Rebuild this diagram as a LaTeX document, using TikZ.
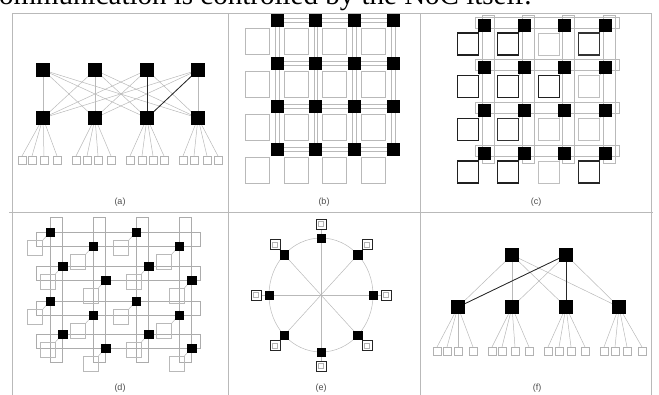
\documentclass[tikz,border=0pt]{standalone}
\usepackage{fontspec}
\setmainfont{Liberation Serif}
\newfontfamily\labfont{Liberation Sans}
\usetikzlibrary{backgrounds}
\begin{document}
\begin{tikzpicture}[x=1pt,y=-1pt,
 sw/.style={draw=black,fill=black,minimum size=#1,inner sep=0pt,outer sep=0pt},
 sw/.default=12,
 res/.style={draw=gray!55,line width=0.7pt,inner sep=0pt,outer sep=0pt},
 lnk/.style={draw=gray!55,line width=0.5pt},
 dlnk/.style={draw=gray!30!black,line width=0.8pt},
 frm/.style={draw=gray!55,line width=0.9pt},
 lab/.style={font=\labfont\fontsize{9}{10}\selectfont,text=gray!60!black,inner sep=0pt}]
\useasboundingbox (0,0) rectangle (659,394);

% caption line cut at the top
\node[anchor=base west,inner sep=0pt,font=\fontsize{29}{31}\selectfont] (cap) at (-14,4.5) {communication is controlled by the NoC itself.};

% frame
\draw[frm] (12,13) -- (651,13);
\draw[frm] (9,212) -- (653,212);
\draw[frm] (12,13) -- (12,400);
\draw[frm] (228,13) -- (228,400);
\draw[frm] (420,13) -- (420,400);
\draw[frm] (651,13) -- (651,400);

% ---------------- (a) ----------------
\foreach \i/\x in {1/43,2/95,3/147,4/198} {
  \node[sw=13] (at\i) at (\x,70) {};
  \node[sw=13] (am\i) at (\x,118) {};
}
\foreach \i/\xa/\xb/\xc/\xd in {1/22/32/44/57,2/76/87/98/111,3/130/142/153/164,4/183/194/207/218} {
  \foreach \k/\x in {1/\xa,2/\xb,3/\xc,4/\xd} {
    \node[res,draw=gray!60,fill=white,minimum size=8] (al\i\k) at (\x,160) {};
  }
}
\begin{pgfonlayer}{background}
\foreach \i in {1,...,4} {
  \foreach \j in {1,...,4} { \draw[lnk] (at\i.center) -- (am\j.center); }
  \foreach \k in {1,...,4} { \draw[lnk] (am\i.center) -- (al\i\k.north); }
}
\draw[dlnk] (at4.center) -- (am3.center);
\draw[dlnk] (at3.center) -- (am3.center);
\end{pgfonlayer}

% ---------------- (b) ----------------
\foreach \c in {0,...,3} {
  \foreach \r in {0,...,3} {
    \node[sw=12] (b\c\r) at ({277+38.67*\c},{20+43*\r}) {};
    \node[res,fill=white,minimum width=24,minimum height=26] (br\c\r) at ({277+38.67*\c-19.5},{20+43*\r+21}) {};
  }
}
\begin{pgfonlayer}{background}
\foreach \c/\cn in {0/1,1/2,2/3} {
  \foreach \r in {0,...,3} {
    \draw[lnk] ([yshift=1.8pt]b\c\r.center) -- ([yshift=1.8pt]b\cn\r.center);
    \draw[lnk] ([yshift=-1.8pt]b\c\r.center) -- ([yshift=-1.8pt]b\cn\r.center);
    \draw[lnk] ([xshift=1.8pt]b\r\c.center) -- ([xshift=1.8pt]b\r\cn.center);
    \draw[lnk] ([xshift=-1.8pt]b\r\c.center) -- ([xshift=-1.8pt]b\r\cn.center);
  }
}
\end{pgfonlayer}

% ---------------- (c) ----------------
\foreach \c/\r/\cl/\lw in {0/0/gray!25!black/1.3,1/0/gray!25!black/1.3,2/0/gray!50/0.7,3/0/gray!40!black/1.1,
  0/1/gray!25!black/1.3,1/1/gray!25!black/1.3,2/1/gray!25!black/1.3,3/1/gray!50/0.7,
  0/2/gray!25!black/1.3,1/2/gray!40!black/1.0,2/2/gray!50/0.7,3/2/gray!50/0.7,
  0/3/gray!25!black/1.3,1/3/gray!25!black/1.3,2/3/gray!50/0.7,3/3/gray!30!black/1.3} {
  \node[sw=12] (c\c\r) at ({484+40.33*\c},{25+42.67*\r}) {};
  \node[res,draw=\cl,line width=\lw pt,fill=white,minimum width=21,minimum height=22] (cr\c\r) at ({484+40.33*\c-16},{25+42.67*\r+19}) {};
}
\begin{pgfonlayer}{background}
\foreach \r in {0,...,3} {
  \draw[lnk] (475,{25+42.67*\r-8}) rectangle (619,{25+42.67*\r+3});
}
\foreach \c in {0,...,3} {
  \draw[lnk] ({484+40.33*\c-2},15) rectangle ({484+40.33*\c+10},163);
}
\foreach \c in {0,...,3} {
  \foreach \r in {0,...,3} { \draw[lnk] (c\c\r.center) -- (cr\c\r.north east); }
}
\end{pgfonlayer}

% ---------------- (d) ----------------
\foreach \k/\vx in {0/50,1/93,2/136,3/179} {
  \foreach \m/\hy in {0/232,1/266,2/301,3/334} {
    \node[sw=8.5] (d\k\m) at ({\vx+12.5*mod(\m,2)},{\hy+14*mod(\k,2)}) {};
    \node[res,minimum size=15] (dr\k\m) at ({\vx+12.5*mod(\m,2)-15},{\hy+14*mod(\k,2)+16}) {};
  }
}
\begin{pgfonlayer}{background}
\foreach \vx in {50,93,136,179} { \draw[lnk,draw=gray!65] (\vx,217) rectangle ({\vx+12.5},362); }
\foreach \hy in {232,266,301,334} { \draw[lnk,draw=gray!65] (36,\hy) rectangle (200,{\hy+14}); }
\foreach \k in {0,...,3} {
  \foreach \m in {0,...,3} { \draw[lnk] (d\k\m.center) -- (dr\k\m.north east); }
}
\end{pgfonlayer}

% ---------------- (e) ----------------
\foreach \a in {0,45,...,315} {
  \node[sw=8.5] (e\a) at ({321+52*cos(\a)},{295-57*sin(\a)}) {};
  \node[draw=gray!30!black,line width=0.9pt,fill=white,minimum size=10,inner sep=0pt] (er\a) at ({321+65*cos(\a)},{295-71*sin(\a)}) {};
  \node[draw=gray!60,line width=0.4pt,minimum size=5,inner sep=0pt] (eri\a) at (er\a.center) {};
}
\begin{pgfonlayer}{background}
\draw[lnk] (321,295) ellipse [x radius=52,y radius=57];
\draw[lnk] (e0.center) -- (e180.center);
\draw[lnk] (e45.center) -- (e225.center);
\draw[lnk] (e90.center) -- (e270.center);
\draw[lnk] (e135.center) -- (e315.center);
\foreach \a in {0,45,...,315} { \draw[lnk] (e\a.center) -- (er\a.center); }
\end{pgfonlayer}

% ---------------- (f) ----------------
\node[sw=13] (ft1) at (512,255) {};
\node[sw=13] (ft2) at (566,255) {};
\foreach \i/\x in {1/458,2/512,3/566,4/619} { \node[sw=13] (fm\i) at (\x,307) {}; }
\foreach \i/\xa/\xb/\xc/\xd in {1/437/447/458/473,2/492/502/515/529,3/548/559/571/585,4/604/615/627/642} {
  \foreach \k/\x in {1/\xa,2/\xb,3/\xc,4/\xd} {
    \node[res,draw=gray!60,fill=white,minimum size=8] (fl\i\k) at (\x,351) {};
  }
}
\begin{pgfonlayer}{background}
\foreach \j in {1,...,4} {
  \draw[lnk] (ft1.center) -- (fm\j.center);
  \draw[lnk] (ft2.center) -- (fm\j.center);
  \foreach \k in {1,...,4} { \draw[lnk] (fm\j.center) -- (fl\j\k.north); }
}
\draw[dlnk] (ft2.center) -- (fm1.center);
\draw[dlnk] (ft2.center) -- (fm3.center);
\end{pgfonlayer}

% labels
\node[lab] (la) at (120,202) {(a)};
\node[lab] (lb) at (324,202) {(b)};
\node[lab] (lc) at (536,202) {(c)};
\node[lab] (ld) at (120,388) {(d)};
\node[lab] (le) at (321,388) {(e)};
\node[lab] (lf) at (537,388) {(f)};
\end{tikzpicture}
\end{document}
